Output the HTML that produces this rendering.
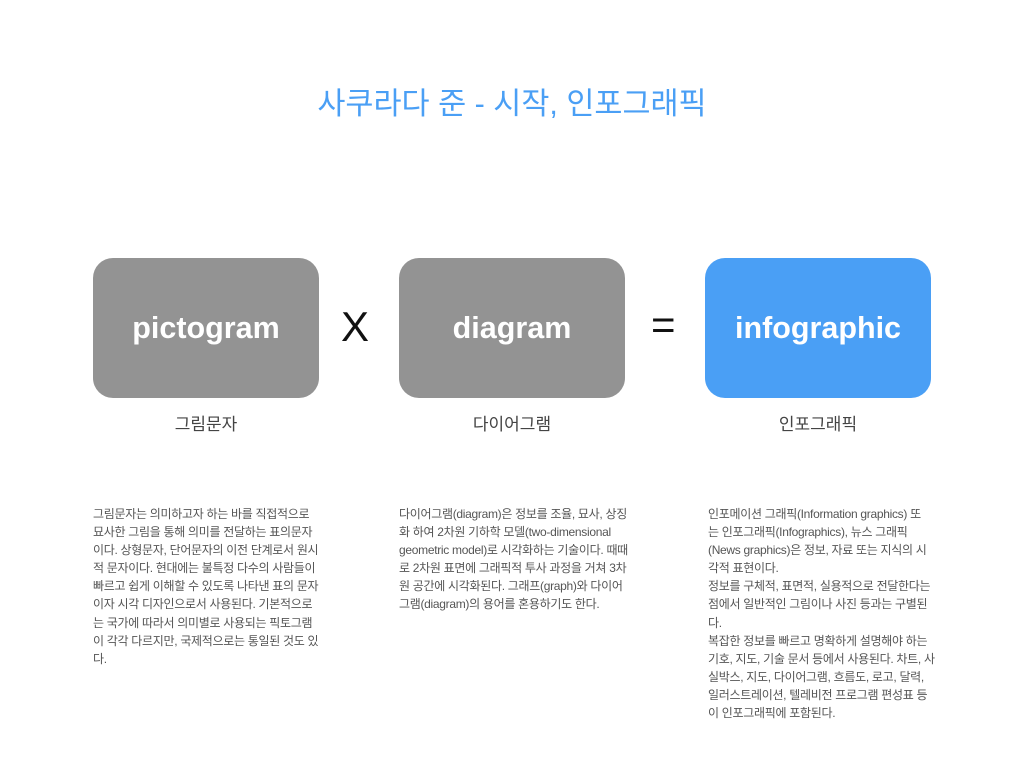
<!DOCTYPE html>
<html><head><meta charset="utf-8"><style>
body{margin:0;width:1024px;height:768px;background:#fff;position:relative;overflow:hidden;font-family:"Liberation Sans","Noto Sans CJK KR",sans-serif}
.t{position:absolute;left:0;width:1024px;top:84px;text-align:center;font-size:30.5px;color:#4a9ff5;line-height:40px}
.b{position:absolute;top:258px;width:226px;height:140px;border-radius:20px;background:#939393;color:#fff;font-weight:bold;font-size:30.5px;text-align:center;line-height:140px}
.l{position:absolute;top:413px;width:226px;text-align:center;font-size:17px;color:#444;line-height:24px}
.p{position:absolute;top:505px;font-size:12px;line-height:18.1px;color:#555;white-space:nowrap;letter-spacing:-0.3px}
.s{position:absolute;font-size:42px;color:#111;line-height:50px;font-weight:300}
</style></head><body>
<div class="t">사쿠라다 준 - 시작, 인포그래픽</div>
<div class="b" style="left:93px">pictogram</div>
<div class="b" style="left:399px">diagram</div>
<div class="b" style="left:705px;background:#4a9ff5">infographic</div>
<div class="s" style="left:341px;top:302px">X</div>
<div class="s" style="left:651px;top:300px">=</div>
<div class="l" style="left:93px">그림문자</div>
<div class="l" style="left:399px">다이어그램</div>
<div class="l" style="left:705px">인포그래픽</div>
<div class="p" style="left:93px">그림문자는 의미하고자 하는 바를 직접적으로<br>묘사한 그림을 통해 의미를 전달하는 표의문자<br>이다. 상형문자, 단어문자의 이전 단계로서 원시<br>적 문자이다. 현대에는 불특정 다수의 사람들이<br>빠르고 쉽게 이해할 수 있도록 나타낸 표의 문자<br>이자 시각 디자인으로서 사용된다. 기본적으로<br>는 국가에 따라서 의미별로 사용되는 픽토그램<br>이 각각 다르지만, 국제적으로는 통일된 것도 있<br>다.</div>
<div class="p" style="left:399px">다이어그램(diagram)은 정보를 조율, 묘사, 상징<br>화 하여 2차원 기하학 모델(two-dimensional<br>geometric model)로 시각화하는 기술이다. 때때<br>로 2차원 표면에 그래픽적 투사 과정을 거쳐 3차<br>원 공간에 시각화된다. 그래프(graph)와 다이어<br>그램(diagram)의 용어를 혼용하기도 한다.</div>
<div class="p" style="left:708px">인포메이션 그래픽(Information graphics) 또<br>는 인포그래픽(Infographics), 뉴스 그래픽<br>(News graphics)은 정보, 자료 또는 지식의 시<br>각적 표현이다.<br>정보를 구체적, 표면적, 실용적으로 전달한다는<br>점에서 일반적인 그림이나 사진 등과는 구별된<br>다.<br>복잡한 정보를 빠르고 명확하게 설명해야 하는<br>기호, 지도, 기술 문서 등에서 사용된다. 차트, 사<br>실박스, 지도, 다이어그램, 흐름도, 로고, 달력,<br>일러스트레이션, 텔레비전 프로그램 편성표 등<br>이 인포그래픽에 포함된다.</div>
</body></html>
